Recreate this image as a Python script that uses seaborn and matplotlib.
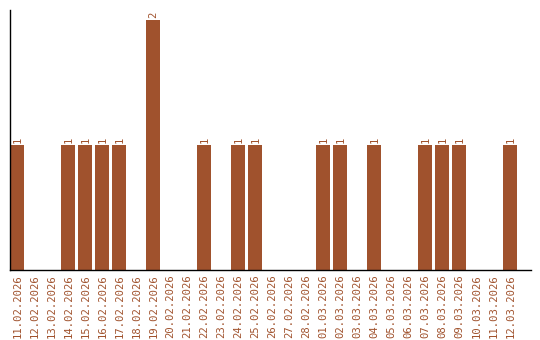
import matplotlib
matplotlib.use("Agg")
import matplotlib.pyplot as plt
import seaborn as sns
import pandas as pd

dates = ["11.02.2026", "12.02.2026", "13.02.2026", "14.02.2026", "15.02.2026",
         "16.02.2026", "17.02.2026", "18.02.2026", "19.02.2026", "20.02.2026",
         "21.02.2026", "22.02.2026", "23.02.2026", "24.02.2026", "25.02.2026",
         "26.02.2026", "27.02.2026", "28.02.2026", "01.03.2026", "02.03.2026",
         "03.03.2026", "04.03.2026", "05.03.2026", "06.03.2026", "07.03.2026",
         "08.03.2026", "09.03.2026", "10.03.2026", "11.03.2026", "12.03.2026"]
values = [1, 0, 0, 1, 1, 1, 1, 0, 2, 0,
          0, 1, 0, 1, 1, 0, 0, 0, 1, 1,
          0, 1, 0, 0, 1, 1, 1, 0, 0, 1]

color = "#A0522D"
sns.set_style("white")
plt.rcParams['font.family'] = ['DejaVu Sans Mono', 'DejaVu Sans']

df = pd.DataFrame({"date": dates, "value": values})
fig = plt.figure(figsize=(5.4, 3.4), dpi=100)
ax = fig.add_axes([10/540, 70/340, 521/540, 260/340])
sns.barplot(data=df, x="date", y="value", color=color, width=0.84,
            saturation=1, ax=ax, order=dates, linewidth=0)

for i, v in enumerate(values):
    if v > 0:
        ax.text(i, v + 0.015, str(v), rotation=90, ha="center", va="bottom",
                fontsize=7.6, color=color)

ax.set_xlim(-0.43, 30.22)
ax.set_ylim(0, 2.08)
ax.set_xlabel("")
ax.set_ylabel("")
ax.set_yticks([])
ax.set_xticks(range(len(dates)))
ax.set_xticklabels(dates, rotation=90, fontsize=7.6, color=color)
ax.tick_params(axis="x", length=0, pad=3)
for s in ["top", "right"]:
    ax.spines[s].set_visible(False)
for s in ["left", "bottom"]:
    ax.spines[s].set_color("black")
    ax.spines[s].set_linewidth(1)
fig.savefig("out.png", dpi=100)
